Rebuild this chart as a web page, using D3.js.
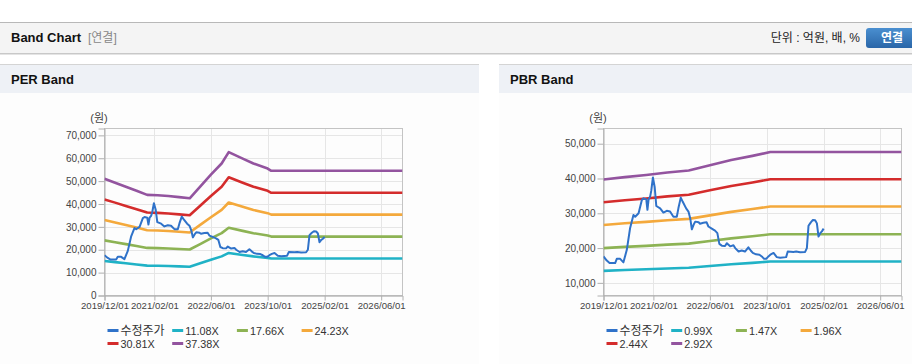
<!DOCTYPE html>
<html><head><meta charset="utf-8">
<script src="https://cdn.jsdelivr.net/npm/d3@7"></script>
<style>
html,body{margin:0;padding:0;background:#fff;}
svg{display:block;font-family:Arial,"Liberation Sans","Noto Sans CJK KR",sans-serif;}
</style></head>
<body><svg id="c" width="912" height="364"></svg>
<script>
// ---------- DATA ----------
const xTickLabels = ["2019/12/01","2021/02/01","2022/06/01","2023/10/01","2025/02/01","2026/06/01"];
const priceDates = ["2019-12-01","2019-12-29","2020-01-22","2020-03-10","2020-03-24","2020-04-22","2020-05-20","2020-06-18","2020-07-16","2020-08-14","2020-08-29","2020-09-27","2020-10-25","2020-11-09","2020-12-02","2020-12-12","2020-12-22","2021-01-04","2021-01-14","2021-01-28","2021-02-12","2021-02-26","2021-03-31","2021-04-28","2021-05-27","2021-06-24","2021-07-23","2021-08-21","2021-09-04","2021-09-24","2021-10-11","2021-11-09","2021-11-29","2021-12-14","2021-12-28","2022-01-12","2022-01-26","2022-02-24","2022-03-08","2022-04-06","2022-05-04","2022-05-19","2022-06-17","2022-07-15","2022-08-04","2022-08-21","2022-09-11","2022-10-09","2022-10-24","2022-11-22","2022-12-20","2023-01-04","2023-02-02","2023-03-01","2023-03-29","2023-04-27","2023-05-17","2023-06-04","2023-07-02","2023-07-31","2023-08-20","2023-09-09","2023-09-27","2023-10-16","2023-11-06","2023-11-29","2023-12-27","2024-01-25","2024-03-16","2024-03-30","2024-05-18","2024-06-10","2024-07-14","2024-08-26","2024-09-10","2024-09-24","2024-10-14","2024-11-01","2024-11-20","2024-12-05","2024-12-19","2025-01-03","2025-01-17","2025-02-01"];
const priceValues = [17600,16400,15700,15700,16900,16900,15900,19500,25700,29500,29000,30000,33800,34300,34000,31000,34000,34800,36500,40300,37600,32100,31400,30200,30700,30500,29000,29000,31500,34500,33300,31400,30500,28600,25400,26700,27600,27400,27000,27300,27400,26200,25600,25000,24300,21200,20700,20600,21400,20500,20800,20000,19000,19300,19000,20200,19300,18600,18200,18100,17600,16900,16900,17600,18200,18600,17400,17200,17400,19000,18900,19000,18800,18900,20000,26400,27400,28100,28000,27100,23300,24300,24800,25600];

// PER bands
const perBandDates = ["2019-12-01","2020-03-01","2020-06-01","2020-09-01","2020-12-01","2021-03-01","2021-06-01","2021-09-01","2021-12-01","2022-03-01","2022-06-01","2022-09-01","2022-11-01","2023-03-01","2023-06-01","2023-10-01","2023-11-01","2026-12-01"];
const per1108 = [15100,14600,14100,13550,13050,13000,12900,12750,12600,14100,15650,17100,18600,17700,17100,16450,16150,16150];
const per1766 = [24100,23300,22450,21650,20800,20700,20550,20300,20100,22500,24950,27250,29600,28250,27250,26200,25750,25750];
const per2423 = [33050,31950,30800,29700,28500,28400,28200,27850,27550,30850,34200,37400,40650,38750,37400,36000,35350,35350];
const per3081 = [42000,40600,39150,37750,36250,36100,35850,35450,35050,39250,43500,47550,51700,49300,47550,45750,44900,44900];
const per3738 = [51000,49300,47500,45800,44000,43800,43500,43000,42500,47600,52800,57700,62700,59800,57700,55500,54500,54500];
const perLegend = ["수정주가","11.08X","17.66X","24.23X","30.81X","37.38X"];
const perYTicks = [0,10000,20000,30000,40000,50000,60000,70000];

// PBR bands
const pbrBandDates = ["2019-12-01","2020-06-01","2020-12-01","2021-06-01","2021-12-01","2022-06-01","2022-12-01","2023-06-01","2023-11-01","2026-12-01"];
const pbr099 = [13460,13700,13900,14140,14340,14850,15360,15760,16140,16140];
const pbr147 = [19980,20340,20640,20990,21290,22050,22800,23410,23960,23960];
const pbr196 = [26650,27120,27520,27990,28390,29400,30410,31210,31950,31950];
const pbr244 = [33170,33760,34260,34850,35350,36600,37850,38860,39780,39780];
const pbr292 = [39700,40400,41000,41700,42300,43800,45300,46500,47600,47600];
const pbrLegend = ["수정주가","0.99X","1.47X","1.96X","2.44X","2.92X"];
const pbrYTicks = [10000,20000,30000,40000,50000];

const colors = ["#2f72c9","#20b2c6","#8db354","#f4a93c","#d42c2c","#93549f"];

// ---------- DRAW ----------
const svg = d3.select("#c");
const parse = d3.timeParse("%Y-%m-%d");
const tickParse = d3.timeParse("%Y/%m/%d");

// top header bar
svg.append("rect").attr("x",0).attr("y",22).attr("width",912).attr("height",31).attr("fill","#f4f4f4");
svg.append("line").attr("x1",0).attr("x2",912).attr("y1",22.5).attr("y2",22.5).attr("stroke","#b8b8b8");
svg.append("line").attr("x1",0).attr("x2",912).attr("y1",53.5).attr("y2",53.5).attr("stroke","#c8c8c8");
svg.append("line").attr("x1",0).attr("x2",912).attr("y1",54.5).attr("y2",54.5).attr("stroke","#e4e4e4");
svg.append("text").attr("x",11).attr("y",42).attr("font-size",13).attr("font-weight","bold").attr("fill","#111").text("Band Chart");
svg.append("text").attr("x",88).attr("y",42).attr("font-size",12).attr("fill","#888").text("[연결]");
svg.append("text").attr("x",860).attr("y",42).attr("text-anchor","end").attr("font-size",12).attr("fill","#222").text("단위 : 억원, 배, %");
const grad = svg.append("defs").append("linearGradient").attr("id","btn").attr("x1",0).attr("x2",0).attr("y1",0).attr("y2",1);
grad.append("stop").attr("offset","0%").attr("stop-color","#4a8fd0");
grad.append("stop").attr("offset","100%").attr("stop-color","#2a66a8");
svg.append("rect").attr("x",866).attr("y",28).attr("width",52).attr("height",20).attr("rx",3).attr("fill","url(#btn)");
svg.append("text").attr("x",892).attr("y",42).attr("text-anchor","middle").attr("font-size",12).attr("font-weight","bold").attr("fill","#fff").text("연결");

function drawPanel(x0, w, title, yDomain, yTicks, bandDates, bands, legend){
  const g = svg.append("g").attr("transform",`translate(${x0},0)`);
  g.append("rect").attr("x",0).attr("y",64).attr("width",w).attr("height",300).attr("fill","#fdfdfd");
  g.append("rect").attr("x",0).attr("y",64).attr("width",w).attr("height",29).attr("fill","#eef1f6");
  g.append("line").attr("x1",0).attr("x2",w).attr("y1",64.5).attr("y2",64.5).attr("stroke","#d4d4d4");
  g.append("text").attr("x",11).attr("y",84).attr("font-size",13).attr("font-weight","bold").attr("fill","#111").text(title);

  const L = 104.5, R = 402.5, T = 128.5, B = 295.5;
  const x = d3.scaleTime().domain([parse("2019-12-01"), parse("2026-12-01")]).range([L,R]);
  const y = d3.scaleLinear().domain(yDomain).range([B,T]);
  const xt = xTickLabels.map(s=>tickParse(s));

  // grid
  g.append("g").selectAll("line").data(yTicks).join("line")
    .attr("x1",L).attr("x2",R).attr("y1",d=>Math.round(y(d))+0.5).attr("y2",d=>Math.round(y(d))+0.5)
    .attr("stroke","#e6e6e6");
  g.append("g").selectAll("line").data(xt.slice(1)).join("line")
    .attr("x1",d=>Math.round(x(d))+0.5).attr("x2",d=>Math.round(x(d))+0.5).attr("y1",T).attr("y2",B)
    .attr("stroke","#e6e6e6");
  // frame
  g.append("rect").attr("x",L).attr("y",T).attr("width",R-L).attr("height",B-T).attr("fill","none").attr("stroke","#c4c4c4");

  // axes
  const yAxis = d3.axisLeft(y).tickValues(yTicks).tickSize(6).tickPadding(2).tickFormat(d3.format(","));
  const ya = g.append("g").attr("transform",`translate(${L},0)`).call(yAxis);
  const xAxis = d3.axisBottom(x).tickValues(xt).tickSize(5).tickPadding(2).tickFormat(d3.timeFormat("%Y/%m/%d"));
  const xa = g.append("g").attr("transform",`translate(0,${B})`).call(xAxis);
  [ya,xa].forEach(a=>{
    a.select(".domain").attr("stroke","#b0b0b0");
    a.selectAll(".tick line").attr("stroke","#b0b0b0");
    a.selectAll("text").attr("fill","#444").attr("font-size",10).attr("font-family","Arial,'Liberation Sans',sans-serif");
  });
  xa.selectAll("text").attr("font-size",9.6);
  g.append("text").attr("x",99).attr("y",122).attr("text-anchor","middle").attr("font-size",11).attr("fill","#444").text("(원)");

  const line = d3.line().x(d=>x(d[0])).y(d=>y(d[1]));
  const clip = "clip"+x0;
  g.append("clipPath").attr("id",clip).append("rect").attr("x",L).attr("y",T).attr("width",R-L).attr("height",B-T);
  const lg = g.append("g").attr("clip-path",`url(#${clip})`);
  const bd = bandDates.map(parse);
  bands.forEach((vals,i)=>{
    lg.append("path").datum(vals.map((v,j)=>[bd[j],v])).attr("d",line)
      .attr("fill","none").attr("stroke",colors[i+1]).attr("stroke-width",2.6).attr("stroke-linejoin","round");
  });
  const pd = priceDates.map(parse);
  lg.append("path").datum(priceValues.map((v,j)=>[pd[j],v])).attr("d",line)
    .attr("fill","none").attr("stroke",colors[0]).attr("stroke-width",2).attr("stroke-linejoin","round");

  // legend
  legend.forEach((name,i)=>{
    const col = i%4, row = Math.floor(i/4);
    const lx = 107.5 + col*64.7, ly = 331 + row*13;
    g.append("rect").attr("x",lx).attr("y",ly-2).attr("width",11).attr("height",3).attr("fill",colors[i]);
    g.append("text").attr("x",lx+13).attr("y",ly+4).attr("font-size",i===0?12:10.8).attr("fill","#333").text(name);
  });
}

drawPanel(0, 479, "PER Band", [0,73000], perYTicks, perBandDates, [per1108,per1766,per2423,per3081,per3738], perLegend);
drawPanel(499, 413, "PBR Band", [6370,54370], pbrYTicks, pbrBandDates, [pbr099,pbr147,pbr196,pbr244,pbr292], pbrLegend);
</script></body></html>
